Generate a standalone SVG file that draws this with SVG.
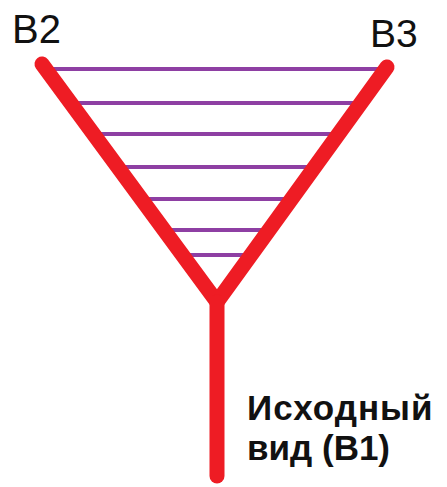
<svg xmlns="http://www.w3.org/2000/svg" width="447" height="487" viewBox="0 0 447 487">
<style>
.hatch{stroke:#8e3fa3;stroke-width:4;stroke-linecap:butt}
.red{stroke:#ee1c24;stroke-width:15;stroke-linecap:round;fill:none;stroke-linejoin:round}
.lbl{font-family:"Liberation Sans",Arial,sans-serif;fill:#111}
</style>
<rect width="447" height="487" fill="#fff"/>
<g id="hatching">
<line class="hatch" x1="50" y1="69" x2="382" y2="69"/>
<line class="hatch" x1="74" y1="103" x2="356" y2="103"/>
<line class="hatch" x1="96" y1="134" x2="334" y2="134"/>
<line class="hatch" x1="120" y1="167" x2="310" y2="167"/>
<line class="hatch" x1="142" y1="199" x2="289" y2="199"/>
<line class="hatch" x1="165" y1="230" x2="268" y2="230"/>
<line class="hatch" x1="184" y1="255" x2="251" y2="255"/>
</g>
<g id="connectors">
<polyline class="red" points="42,64 217,302 387,67"/>
<line class="red" x1="217" y1="302" x2="217" y2="476"/>
</g>
<g id="B2"><text class="lbl" x="12" y="43" font-size="40">B2</text></g>
<g id="B3"><text class="lbl" x="370" y="47" font-size="39">B3</text></g>
<g id="B1"><text class="lbl" x="247" y="420" font-size="35" font-weight="bold" letter-spacing="1">Исходный</text>
<text class="lbl" x="247" y="460" font-size="35" font-weight="bold">вид (B1)</text></g>
</svg>
